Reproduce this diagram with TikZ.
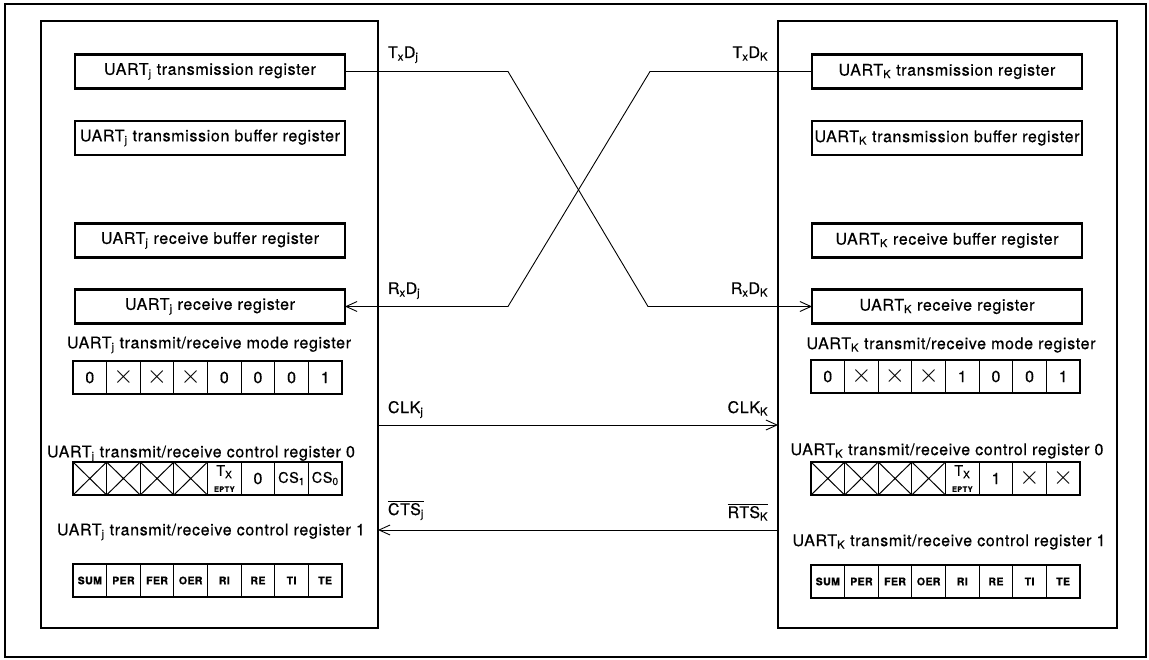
\documentclass[tikz,border=0pt]{standalone}
\usepackage{fontspec}
\usepackage{graphicx}
\setmainfont{TeX Gyre Heros}[LetterSpace=4,FakeBold=0.5]
\usetikzlibrary{arrows.meta}
\newcommand{\lb}{\fontsize{16}{19}\selectfont}
\newcommand{\cs}{\fontsize{14.5}{16}\selectfont}
\newcommand{\bt}{\fontsize{10.5}{12}\selectfont\bfseries}
\newcommand{\tn}{\fontsize{7.5}{8}\selectfont\bfseries}
\newcommand{\xx}{\scalebox{1.5}{$\times$}}
\newcommand{\txe}{{\fontsize{14.5}{11}\selectfont T\textsubscript{X}}\\[-3pt]{\tn EPTY}}

\begin{document}
\begin{tikzpicture}[x=1pt,y=-1pt,every node/.style={inner sep=0pt,outer sep=0pt},
 frame/.style={draw,line width=2.2pt},
 reg/.style={frame,minimum width=270pt,minimum height=34pt,font=\lb},
 sig/.style={line width=.9pt},
 >={Straight Barb[length=11pt,width=10pt]}]
\path[use as bounding box] (0,0) rectangle (1149,660);
% ---------- frames
\draw[line width=1.8pt] (5,4) rectangle (1146,657);
\node[frame,minimum width=337pt,minimum height=607pt] (pj) at (209.5,324.5) {};
\node[frame,minimum width=339pt,minimum height=607pt] (pk) at (947.5,324.5) {};
% ---------- data registers
\foreach \n/\t/\y in {tr/transmission register/71.5, tb/transmission buffer register/138, rb/receive buffer register/240.5, rr/receive register/306.5}{
 \node[reg] (j\n) at (210,\y) {UART\textsubscript{j} \t};
 \node[reg] (k\n) at (947,\y) {UART\textsubscript{K} \t};}
% ---------- bit registers: name, left x, top y, font, cells (width 33.625)
\newcommand{\cells}[5]{%
 \node[frame,minimum width=269pt,minimum height=33pt,anchor=north west] (#1) at (#2,#3) {};
 \foreach \c [count=\i from 0] in {#5}{
  \node[font=#4,align=center] (#1\i) at ({#2+(\i+.5)*33.625},#3+16.5) {\c};
  \ifnum\i>0 \draw[line width=1pt] ({#2+\i*33.625},#3) -- ++(0,33);\fi}}
\newcommand{\crossed}[2]{% four dead bits
 \foreach \i in {0,...,3}
  \draw[line width=1pt] ({#1+\i*33.625},#2) -- ++(33.625,33) ({#1+(\i+1)*33.625},#2) -- ++(-33.625,33);}
% left side, UART j
\node[font=\lb] (jml) at (209,345) {UART\textsubscript{j} transmit/receive mode register};
\cells{jm}{73}{361}{\lb}{0,\xx,\xx,\xx,0,0,0,1}
\node[font=\lb] (jc0l) at (201,454) {UART\textsubscript{j} transmit/receive control register 0};
\cells{jc}{73}{462}{\lb}{,,,,\txe,0,{\cs CS\textsubscript{1}},{\cs CS\textsubscript{0}}}
\crossed{73}{462}
\node[font=\lb] (jc1l) at (211,532) {UART\textsubscript{j} transmit/receive control register 1};
\cells{jd}{73}{564}{\bt}{SUM,PER,FER,OER,RI,RE,TI,TE}
% right side, UART k
\node[font=\lb] (kml) at (951,345) {UART\textsubscript{K} transmit/receive mode register};
\cells{km}{811}{360}{\lb}{0,\xx,\xx,\xx,1,0,0,1}
\node[font=\lb] (kc0l) at (947,451) {UART\textsubscript{K} transmit/receive control register 0};
\cells{kc}{811}{462}{\lb}{,,,,\txe,1,\xx,\xx}
\crossed{811}{462}
\node[font=\lb] (kc1l) at (949,542) {UART\textsubscript{K} transmit/receive control register 1};
\cells{kd}{811}{565}{\bt}{SUM,PER,FER,OER,RI,RE,TI,TE}
% ---------- serial lines
\coordinate (xj1) at (508,71.5);
\coordinate (xj2) at (648,306.5);
\coordinate (xk1) at (650,71.5);
\coordinate (xk2) at (508,306.5);
\draw[sig,->] (jtr.east) -- (xj1) -- (xj2) -- (krr.west);
\draw[sig,->] (ktr.west) -- (xk1) -- (xk2) -- (jrr.east);
\coordinate (clkj) at (pj.east |- 0,425);
\coordinate (clkk) at (pk.west |- 0,425);
\coordinate (ctsj) at (pj.east |- 0,530);
\coordinate (rtsk) at (pk.west |- 0,530);
\draw[sig,->] (clkj) -- (clkk);
\draw[sig,->] (rtsk) -- (ctsj);
% ---------- line labels
\node[font=\lb,anchor=base west] (ltj) at (388,58) {T\textsubscript{x}D\textsubscript{j}};
\node[font=\lb,anchor=base east] (ltk) at (768,58) {T\textsubscript{x}D\textsubscript{K}};
\node[font=\lb,anchor=base west] (lrj) at (388,294) {R\textsubscript{x}D\textsubscript{j}};
\node[font=\lb,anchor=base east] (lrk) at (768,294) {R\textsubscript{x}D\textsubscript{K}};
\node[font=\lb,anchor=base west] (lcj) at (388,413) {CLK\textsubscript{j}};
\node[font=\lb,anchor=base east] (lck) at (768,413) {CLK\textsubscript{K}};
\node[font=\lb,anchor=base west] (lsj) at (388,515) {$\overline{\mbox{CTS\textsubscript{j}}}$};
\node[font=\lb,anchor=base east] (lsk) at (768,518) {$\overline{\mbox{RTS\textsubscript{K}}}$};
\end{tikzpicture}
\end{document}
